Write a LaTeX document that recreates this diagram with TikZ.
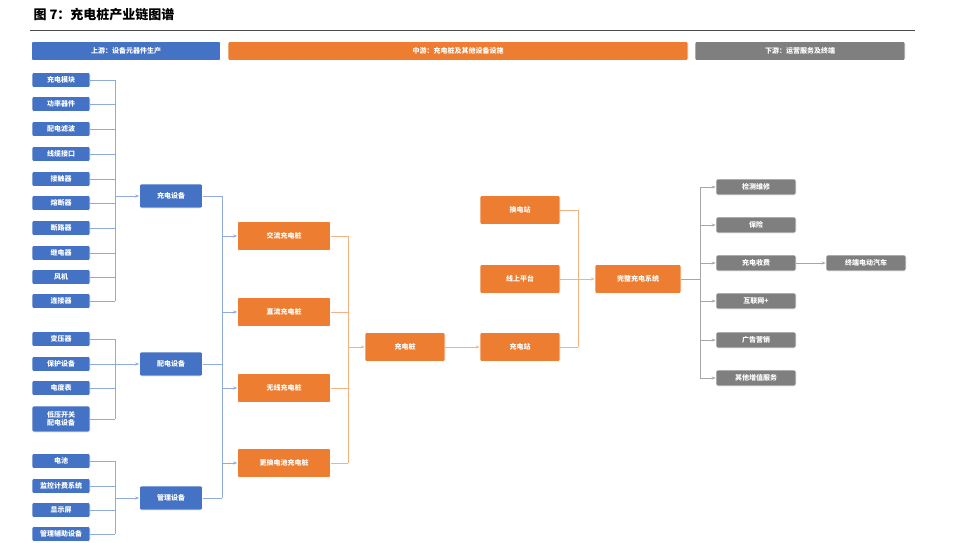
\documentclass[tikz,border=0pt]{standalone}
\usepackage{fontspec}
\setmainfont{Noto Sans CJK SC}
\usetikzlibrary{arrows.meta}
\definecolor{bl}{HTML}{4472C4}
\definecolor{or}{HTML}{ED7D31}
\definecolor{gr}{HTML}{7F7F7F}
\definecolor{lbl}{HTML}{8FAADC}
\definecolor{lor}{HTML}{F4B183}
\definecolor{lgr}{HTML}{A6A6A6}
\begin{document}
\begin{tikzpicture}[x=1pt,y=-1pt,
 box/.style={draw=white,line width=0.6pt,rounded corners=2pt,text=white,font=\bfseries\fontsize{7}{8}\selectfont,align=center,inner sep=0pt},
 bb/.style={box,fill=bl,minimum width=58pt,minimum height=15pt},
 mb/.style={box,fill=bl,minimum width=63pt,minimum height=24pt},
 ob/.style={box,fill=or,minimum width=93pt,minimum height=29pt},
 oc/.style={box,fill=or,minimum width=80pt,minimum height=29pt},
 gb/.style={box,fill=gr,minimum width=80pt,minimum height=16pt},
 hb/.style={box,minimum height=19pt},
 lb/.style={draw=lbl,line width=0.7pt},
 lo/.style={draw=lor,line width=0.7pt},
 lg/.style={draw=lgr,line width=0.7pt},
 ar/.style={-{Stealth[length=4pt,width=3pt]}}]
\useasboundingbox (0,0) rectangle (956,543);
\node[anchor=west,font=\bfseries\fontsize{13}{15}\selectfont] (title) at (30,15) {图 7：充电桩产业链图谱};
\draw[line width=0.8pt,draw=black!70] (30,30) -- (915,30);
\node[hb,fill=bl,minimum width=189pt] (h1) at (126,51) {上游：设备元器件生产};
\node[hb,fill=or,minimum width=460pt] (h2) at (458,51) {中游：充电桩及其他设备设施};
\node[hb,fill=gr,minimum width=210pt] (h3) at (800,51) {下游：运营服务及终端};
% left column
\foreach \n/\t/\y in {a1/充电模块/80,a2/功率器件/104,a3/配电滤波/129,a4/线缆接口/154,a5/接触器/179,a6/熔断器/203,a7/断路器/228,a8/继电器/253,a9/风机/277,a10/连接器/301,
 b1/变压器/339,b2/保护设备/364,b3/电度表/388,
 c1/电池/461,c2/监控计费系统/486,c3/显示屏/510,c4/管理辅助设备/534}
 \node[bb] (\n) at (61,\y) {\t};
\node[bb,minimum height=26pt] (b4) at (61,419) {低压开关\\配电设备};
\node[mb] (m1) at (171,196) {充电设备};
\node[mb] (m2) at (171,364) {配电设备};
\node[mb] (m3) at (171,498) {管理设备};
\foreach \n in {a1,a2,a3,a4,a5,a6,a7,a8,a9,a10} \draw[lb] (\n.east) -- (115,0 |- \n.east);
\draw[lb] (115,80) -- (115,301);
\draw[lb,ar] (115,196) -- (m1.west);
\foreach \n in {b1,b2,b3,b4} \draw[lb] (\n.east) -- (115,0 |- \n.east);
\draw[lb] (115,339) -- (115,419);
\draw[lb,ar] (115,364) -- (m2.west);
\foreach \n in {c1,c2,c3,c4} \draw[lb] (\n.east) -- (115,0 |- \n.east);
\draw[lb] (115,461) -- (115,534);
\draw[lb,ar] (115,498) -- (m3.west);
% orange
\node[ob] (o1) at (284,236) {交流充电桩};
\node[ob] (o2) at (284,312) {直流充电桩};
\node[ob] (o3) at (284,388) {无线充电桩};
\node[ob] (o4) at (284,463) {更换电池充电桩};
\foreach \n in {m1,m2,m3} \draw[lb] (\n.east) -- (222,0 |- \n.east);
\draw[lb] (222,196) -- (222,498);
\foreach \n in {o1,o2,o3,o4} \draw[lb,ar] (222,0 |- \n.west) -- (\n.west);
\foreach \n in {o1,o2,o3,o4} \draw[lo] (\n.east) -- (348,0 |- \n.east);
\draw[lo] (348,236) -- (348,463);
\node[oc] (p) at (405,347) {充电桩};
\draw[lo,ar] (348,347) -- (p.west);
\node[oc] (s3) at (520,347) {充电站};
\node[oc] (s1) at (520,210) {换电站};
\node[oc] (s2) at (520,279) {线上平台};
\draw[lo,ar] (p) -- (s3);
\node[box,fill=or,minimum width=86pt,minimum height=29pt] (w) at (638,279) {完整充电系统};
\foreach \n in {s1,s2,s3} \draw[lo] (\n.east) -- (578,0 |- \n.east);
\draw[lo] (578,210) -- (578,347);
\draw[lo,ar] (578,279) -- (w.west);
% gray
\foreach \n/\t/\y in {g1/检测维修/187,g2/保险/225,g3/充电收费/263,g4/互联网+/301,g5/广告营销/340,g6/其他增值服务/378}
 { \node[gb] (\n) at (756,\y) {\t}; \draw[lg,ar] (700,\y) -- (\n.west); }
\draw[lg] (w.east) -- (700,279);
\draw[lg] (700,187) -- (700,378);
\node[gb] (e) at (866,263) {终端电动汽车};
\draw[lg,ar] (g3) -- (e);
\end{tikzpicture}
\end{document}
